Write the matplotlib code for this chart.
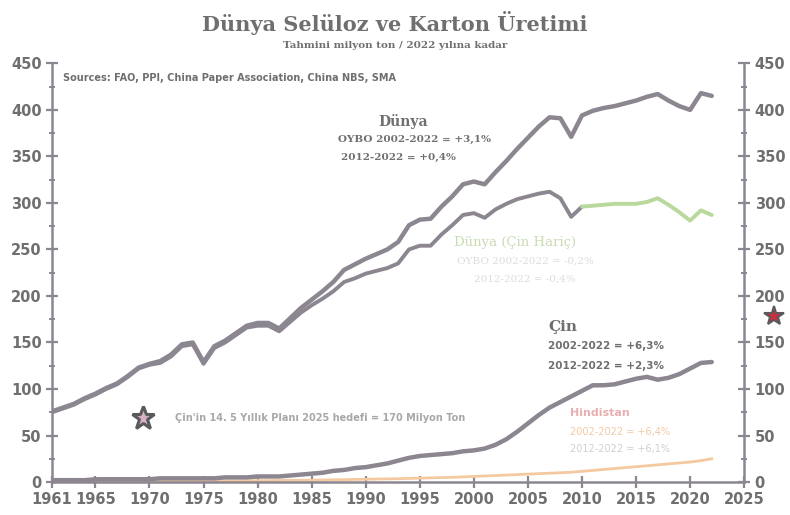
import matplotlib
matplotlib.use("Agg")
import matplotlib.pyplot as plt
from matplotlib.ticker import MultipleLocator

years = list(range(1961, 2023))
world = [76, 80, 84, 90, 95, 101, 106, 114, 123, 127,
         130, 137, 148, 150, 129, 146, 152, 160, 168, 171,
         171, 165, 176, 187, 196, 205, 215, 228, 234, 240,
         245, 250, 258, 276, 282, 283, 296, 307, 320, 323,
         320, 333, 345, 358, 370, 382, 392, 391, 371, 394,
         399, 402, 404, 407, 410, 414, 417, 410, 404, 400,
         418, 415]
world_ex_china = [75, 79, 83, 89, 94, 100, 105, 113, 122, 126,
                  128, 135, 146, 148, 127, 144, 150, 158, 166, 168,
                  168, 162, 172, 182, 190, 197, 205, 215, 219, 224,
                  227, 230, 235, 250, 254, 254, 266, 276, 287, 289,
                  284, 293, 299, 304, 307, 310, 312, 305, 285, 296,
                  297, 298, 299, 299, 299, 301, 305, 298, 290, 281,
                  292, 287]
china = [2, 2, 2, 2, 3, 3, 3, 3, 3, 3,
         4, 4, 4, 4, 4, 4, 5, 5, 5, 6,
         6, 6, 7, 8, 9, 10, 12, 13, 15, 16,
         18, 20, 23, 26, 28, 29, 30, 31, 33, 34,
         36, 40, 46, 54, 63, 72, 80, 86, 92, 98,
         104, 104, 105, 108, 111, 113, 110, 112, 116, 122,
         128, 129]
india = [0.4, 0.4, 0.5, 0.5, 0.6, 0.6, 0.7, 0.7, 0.8, 0.8,
         0.9, 0.9, 1.0, 1.0, 1.0, 1.1, 1.2, 1.3, 1.4, 1.5,
         1.6, 1.7, 1.8, 1.9, 2.0, 2.2, 2.4, 2.6, 2.8, 3.0,
         3.2, 3.4, 3.6, 3.9, 4.2, 4.5, 4.8, 5.1, 5.5, 6.0,
         6.5, 7.0, 7.5, 8.0, 8.5, 9.0, 9.5, 10.0, 10.5, 11.5,
         12.5, 13.5, 14.5, 15.5, 16.5, 17.5, 18.5, 19.5, 20.5, 21.5,
         23.0, 25.0]
split_year = 2010
target_year = 2025
china_target = 170

xtick_years = [1961, 1965, 1970, 1975, 1980, 1985, 1990, 1995, 2000,
               2005, 2010, 2015, 2020, 2025]
yticks = [0, 50, 100, 150, 200, 250, 300, 350, 400, 450]

GREY = "#8c8690"
TXT = "#6f6f6f"
GREEN = "#b8d89c"
ORANGE = "#f4c9a0"

fig = plt.figure(figsize=(7.9, 5.15), dpi=100)
fig.patch.set_facecolor("white")
ax = fig.add_axes([0.066, 0.064, 0.876, 0.813])

i_split = years.index(split_year)
ax.plot(years[:i_split + 1], world_ex_china[:i_split + 1], color=GREY, lw=2.8,
        solid_capstyle="round", zorder=3)
ax.plot(years[i_split:], world_ex_china[i_split:], color=GREEN, lw=2.8,
        solid_capstyle="round", zorder=3)
ax.plot(years, world, color=GREY, lw=3.2, solid_capstyle="round", zorder=4)
ax.plot(years, india, color=ORANGE, lw=2.0, zorder=2)
ax.plot(years, china, color=GREY, lw=3.2, solid_capstyle="round", zorder=4)

ax.set_xlim(1961, 2025)
ax.set_ylim(0, 450)
ax.set_xticks(xtick_years)
ax.set_yticks(yticks)
ax.yaxis.set_minor_locator(MultipleLocator(25))
ax.xaxis.set_minor_locator(MultipleLocator(1))
ax.tick_params(axis="both", which="major", direction="inout", length=8,
               width=1.6, color=GREY, labelcolor=TXT, labelsize=10.5)
ax.tick_params(axis="y", which="minor", direction="inout", length=5,
               width=1.4, color=GREY)
ax.tick_params(axis="x", which="minor", length=0)
ax.tick_params(axis="y", right=True, labelright=True, which="both")
for lab in ax.get_xticklabels() + ax.get_yticklabels():
    lab.set_fontweight("bold")
for t in ax.yaxis.get_major_ticks():
    t.label2.set_fontweight("bold")
    t.label2.set_color(TXT)
for side in ["left", "right", "bottom"]:
    ax.spines[side].set_color(GREY)
    ax.spines[side].set_linewidth(1.8)
ax.spines["top"].set_visible(False)

fig.text(0.5, 0.955, "Dünya Selüloz ve Karton Üretimi", ha="center", va="center",
         fontsize=15, fontweight="bold", family="DejaVu Serif", color=TXT)
fig.text(0.5, 0.912, "Tahmini milyon ton / 2022 yılına kadar", ha="center",
         va="center", fontsize=7.5, fontweight="bold", family="DejaVu Serif",
         color=TXT)
ax.text(0.015, 0.965, "Sources: FAO, PPI, China Paper Association, China NBS, SMA",
        transform=ax.transAxes, fontsize=7, fontweight="bold", color=TXT,
        ha="left", va="center")

ax.text(1993.5, 387, "Dünya", fontsize=10, fontweight="bold", family="DejaVu Serif",
        color=TXT, ha="center", va="center")
ax.text(1994.5, 368, "OYBO 2002-2022 = +3,1%", fontsize=7.5, fontweight="bold",
        family="DejaVu Serif", color=TXT, ha="center", va="center")
ax.text(1998.3, 349, "2012-2022 = +0,4%", fontsize=7.5, fontweight="bold",
        family="DejaVu Serif", color=TXT, ha="right", va="center")

ax.text(2003.8, 257, "Dünya (Çin Hariç)", fontsize=9.5, family="DejaVu Serif",
        color="#c8ddb4", ha="center", va="center")
ax.text(2004.8, 237, "OYBO 2002-2022 = -0,2%", fontsize=7.5, family="DejaVu Serif",
        color="#dcdcdc", ha="center", va="center")
ax.text(2009.4, 218, "2012-2022 = -0,4%", fontsize=7.5, family="DejaVu Serif",
        color="#dcdcdc", ha="right", va="center")

ax.text(2006.9, 167, "Çin", fontsize=11, fontweight="bold", family="DejaVu Serif",
        color=TXT, ha="left", va="center")
ax.text(2006.9, 146, "2002-2022 = +6,3%", fontsize=7.5, fontweight="bold",
        color=TXT, ha="left", va="center")
ax.text(2006.9, 125, "2012-2022 = +2,3%", fontsize=7.5, fontweight="bold",
        color=TXT, ha="left", va="center")

ax.text(2008.9, 74, "Hindistan", fontsize=8, fontweight="bold", color="#e8b0b0",
        ha="left", va="center")
ax.text(2008.9, 54, "2002-2022 = +6,4%", fontsize=7, color="#f2c9a4",
        ha="left", va="center")
ax.text(2008.9, 35, "2012-2022 = +6,1%", fontsize=7, color="#d0d0d0",
        ha="left", va="center")

ax.plot([1969.4], [69], marker="*", markersize=17, color="#5a5a5a",
        markerfacecolor="#d8b0c8", markeredgewidth=2.2, zorder=5)
ax.text(1972.4, 69, "Çin'in 14. 5 Yıllık Planı 2025 hedefi = 170 Milyon Ton",
        fontsize=7, fontweight="bold", color="#a8a8a8", ha="left", va="center")
ax.plot([target_year + 2.8], [china_target + 8], marker="*", markersize=15,
        color="#5a5a5a", markerfacecolor="#c83040", markeredgewidth=1.5,
        clip_on=False, zorder=6)

fig.savefig("out.png", dpi=100)
